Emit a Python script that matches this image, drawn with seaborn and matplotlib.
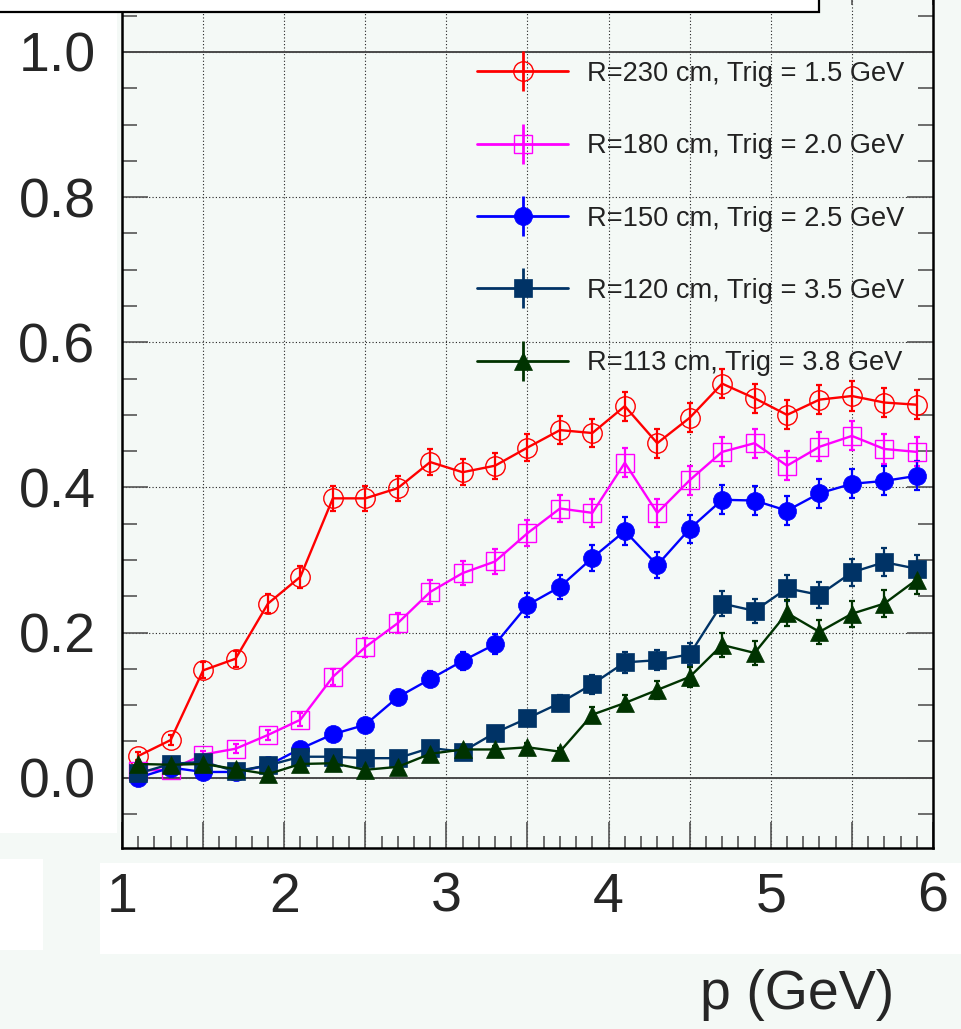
import numpy as np
import matplotlib
matplotlib.use("Agg")
import matplotlib.pyplot as plt
import seaborn as sns
from matplotlib.lines import Line2D
from matplotlib.patches import Rectangle
from matplotlib.legend_handler import HandlerTuple
from matplotlib.ticker import FixedLocator, MultipleLocator

# ---------------- data ----------------
p_bins = [1.1, 1.3, 1.5, 1.7, 1.9, 2.1, 2.3, 2.5, 2.7, 2.9, 3.1, 3.3, 3.5,
          3.7, 3.9, 4.1, 4.3, 4.5, 4.7, 4.9, 5.1, 5.3, 5.5, 5.7, 5.9]

eff_r230 = [0.030, 0.052, 0.148, 0.164, 0.240, 0.277, 0.385, 0.385, 0.399, 0.435, 0.421, 0.430, 0.455,
            0.479, 0.475, 0.512, 0.461, 0.496, 0.543, 0.523, 0.500, 0.521, 0.526, 0.517, 0.514]
err_r230 = [0.005, 0.007, 0.011, 0.011, 0.013, 0.015, 0.017, 0.017, 0.017, 0.018, 0.018, 0.018, 0.019,
            0.019, 0.019, 0.020, 0.020, 0.020, 0.020, 0.020, 0.020, 0.020, 0.020, 0.020, 0.020]

eff_r180 = [0.010, 0.011, 0.032, 0.040, 0.059, 0.080, 0.139, 0.180, 0.213, 0.256, 0.282, 0.298, 0.337,
            0.371, 0.365, 0.434, 0.365, 0.410, 0.449, 0.461, 0.430, 0.456, 0.471, 0.453, 0.449]
err_r180 = [0.002, 0.003, 0.005, 0.006, 0.007, 0.009, 0.011, 0.013, 0.014, 0.016, 0.017, 0.017, 0.018,
            0.019, 0.019, 0.020, 0.019, 0.020, 0.020, 0.020, 0.020, 0.020, 0.020, 0.020, 0.020]

eff_r150 = [0.000, 0.014, 0.008, 0.008, 0.017, 0.040, 0.060, 0.073, 0.111, 0.136, 0.161, 0.184, 0.238,
            0.263, 0.303, 0.340, 0.293, 0.343, 0.383, 0.382, 0.368, 0.392, 0.405, 0.409, 0.416]
err_r150 = [0.001, 0.003, 0.002, 0.002, 0.003, 0.005, 0.007, 0.008, 0.010, 0.011, 0.012, 0.014, 0.016,
            0.017, 0.018, 0.019, 0.018, 0.019, 0.020, 0.020, 0.020, 0.020, 0.020, 0.020, 0.020]

eff_r120 = [0.006, 0.019, 0.022, 0.009, 0.017, 0.029, 0.029, 0.027, 0.027, 0.041, 0.036, 0.062, 0.082,
            0.103, 0.129, 0.159, 0.162, 0.170, 0.240, 0.230, 0.261, 0.252, 0.283, 0.297, 0.288]
err_r120 = [0.001, 0.003, 0.003, 0.002, 0.003, 0.004, 0.004, 0.004, 0.004, 0.005, 0.005, 0.007, 0.009,
            0.011, 0.013, 0.014, 0.014, 0.015, 0.017, 0.017, 0.018, 0.018, 0.019, 0.019, 0.019]

eff_r113 = [0.019, 0.018, 0.019, 0.012, 0.005, 0.019, 0.020, 0.011, 0.015, 0.033, 0.039, 0.039, 0.042,
            0.036, 0.087, 0.103, 0.121, 0.139, 0.183, 0.172, 0.227, 0.201, 0.226, 0.240, 0.273]
err_r113 = [0.003, 0.003, 0.003, 0.002, 0.002, 0.003, 0.003, 0.002, 0.003, 0.005, 0.005, 0.005, 0.006,
            0.005, 0.010, 0.011, 0.013, 0.014, 0.016, 0.016, 0.018, 0.017, 0.018, 0.019, 0.020]

series_labels = ["R=230 cm, Trig = 1.5 GeV", "R=180 cm, Trig = 2.0 GeV",
                 "R=150 cm, Trig = 2.5 GeV", "R=120 cm, Trig = 3.5 GeV",
                 "R=113 cm, Trig = 3.8 GeV"]
x_major_ticks = [1.0, 1.5, 2.0, 2.5, 3.0, 3.5, 4.0, 4.5, 5.0, 5.5, 6.0]
x_tick_labels = ["1", "", "2", "", "3", "", "4", "", "5", "", "6"]
y_major_ticks = [0.0, 0.2, 0.4, 0.6, 0.8, 1.0]
y_tick_labels = ["0.0", "0.2", "0.4", "0.6", "0.8", "1.0"]
x_title = "p (GeV)"

# ---------------- style ----------------
sns.set_style("ticks")
plt.rcParams['font.family'] = ['Liberation Sans', 'DejaVu Sans']

W, H = 962, 1029
BG = '#f4f9f6'
fig = plt.figure(figsize=(W / 100, H / 100), dpi=100)
fig.patch.set_facecolor(BG)


def add_box(x0, y0, w, h, z=-5, ec='none', lw=0):
    fig.patches.append(Rectangle((x0 / W, 1 - (y0 + h) / H), w / W, h / H,
                                 transform=fig.transFigure, facecolor='white',
                                 edgecolor=ec, linewidth=lw, zorder=z))


# white label panels
add_box(0, 0, 117, 833)
add_box(0, 859, 43, 91)
add_box(100, 863, 870, 91)
# (cropped) title box at the top
add_box(-10, -20, 829, 32, z=5, ec='black', lw=1.6)

ax = fig.add_axes([122 / W, 1 - 848.1 / H, 811 / W, 868.7 / H])
ax.set_facecolor(BG)
ax.set_xlim(1, 6)
ax.set_ylim(-0.0969, 1.1)

styles = [
    dict(color='#ff0000', marker='o', ms=14, mfc='none', mew=1.0),
    dict(color='#ff00ff', marker='s', ms=12.5, mfc='none', mew=1.0),
    dict(color='#0000ff', marker='o', ms=13, mfc='#0000ff', mew=0.5),
    dict(color='#003366', marker='s', ms=12.5, mfc='#003366', mew=0.5),
    dict(color='#003300', marker='^', ms=13, mfc='#003300', mew=0.5),
]
all_eff = [eff_r230, eff_r180, eff_r150, eff_r120, eff_r113]
all_err = [err_r230, err_r180, err_r150, err_r120, err_r113]

for eff, err, st in zip(all_eff, all_err, styles):
    ax.errorbar(p_bins, eff, yerr=err, fmt='none', ecolor=st['color'],
                elinewidth=1.6, capsize=2.5, capthick=1.6, zorder=3)
    sns.lineplot(x=p_bins, y=eff, ax=ax, color=st['color'], linewidth=1.7,
                 marker=st['marker'], markersize=st['ms'],
                 markerfacecolor=st['mfc'], markeredgecolor=st['color'],
                 markeredgewidth=st['mew'], legend=False, errorbar=None,
                 zorder=4)

# grid & reference lines
ax.xaxis.set_major_locator(FixedLocator(x_major_ticks))
ax.xaxis.set_minor_locator(MultipleLocator(0.1))
ax.set_xticklabels(x_tick_labels)
ax.yaxis.set_major_locator(FixedLocator(y_major_ticks))
ax.yaxis.set_minor_locator(MultipleLocator(0.05))
ax.set_yticklabels(y_tick_labels)
ax.grid(True, which='major', axis='both', color='#222222', linestyle=(0, (1, 2)),
        linewidth=0.8, zorder=1)
ax.axhline(0.0, color='#4a4a4a', linewidth=1.4, zorder=2)
ax.axhline(1.0, color='#4a4a4a', linewidth=1.4, zorder=2)

for s in ax.spines.values():
    s.set_color('black')
    s.set_linewidth(1.8)

ax.tick_params(which='both', direction='in', right=True, top=True, color='#555555')
ax.tick_params(axis='x', which='major', length=19, width=1.2, labelsize=40, pad=17)
ax.tick_params(axis='x', which='minor', length=8.5, width=1.2)
ax.tick_params(axis='y', which='major', length=19, width=1.2, labelsize=40, pad=19)
ax.tick_params(axis='y', which='minor', length=10.5, width=1.2)

ax.set_xlabel(x_title, fontsize=40, va='center')
ax.xaxis.set_label_coords((797 - 122) / 811, (848.1 - 995) / 868.7)
ax.set_ylabel("")

# legend
handles = []
for st in styles:
    bar = Line2D([], [], color=st['color'], linewidth=2, marker='|', markersize=29,
                 markeredgewidth=2)
    mk = Line2D([], [], color=st['color'], linestyle='none', marker=st['marker'],
                markersize=st['ms'], markerfacecolor=st['mfc'],
                markeredgecolor=st['color'], markeredgewidth=st['mew'])
    handles.append((bar, mk))
leg = ax.legend(handles, series_labels, handler_map={tuple: HandlerTuple(ndivide=1)},
                loc='upper left', bbox_to_anchor=(477 / W, 1 - 61 / H),
                bbox_transform=fig.transFigure, frameon=False, fontsize=19.6,
                handlelength=3.35, handletextpad=0.68, labelspacing=1.7,
                borderpad=0, borderaxespad=0, numpoints=1, labelcolor='#222222')

fig.savefig("out.png", dpi=100, facecolor=fig.get_facecolor())
